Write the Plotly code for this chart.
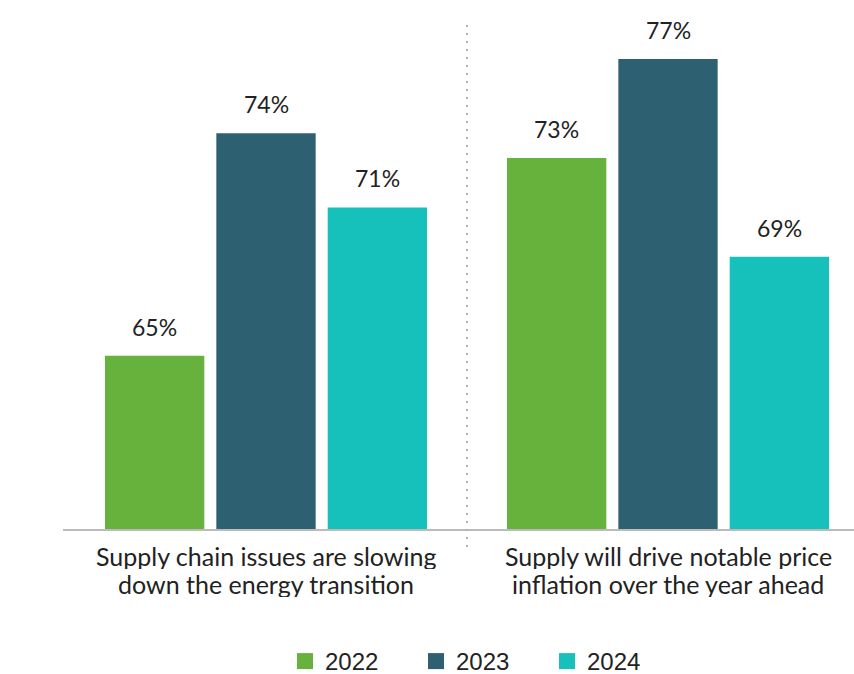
import plotly.graph_objects as go

categories = ["Supply chain issues are slowing down the energy transition",
              "Supply will drive notable price inflation over the year ahead"]
cat_lines = [["Supply chain issues are slowing", "down the energy transition"],
             ["Supply will drive notable price", "inflation over the year ahead"]]
years = ["2022", "2023", "2024"]
values = {
    "2022": [65, 73],
    "2023": [74, 77],
    "2024": [71, 69],
}
colors = {"2022": "#66B23C", "2023": "#2D6070", "2024": "#17C1BB"}

FONT = "Lato"
LEG_FONT = "Liberation Sans"
TXT = "#222222"

# layout geometry
W, H = 854, 674
ML, MR, MT, MB = 63, 0, 20, 145
plot_h = H - MT - MB
plot_w = W - ML - MR
px_per_unit_y = 24.74
y_base = 58
y_top = y_base + plot_h / px_per_unit_y
px_per_cat = 402
x_lo = -(266 - ML) / px_per_cat
x_hi = x_lo + plot_w / px_per_cat
bargap = 0.169
bargroupgap = 0.108
slot = (1 - bargap) / len(years)

fig = go.Figure()
idx = list(range(len(categories)))
for j, yr in enumerate(years):
    fig.add_trace(go.Bar(
        x=idx, y=values[yr], name=yr, marker_color=colors[yr],
        marker_line_width=0, showlegend=False,
    ))
    # legend proxy with bigger square
    fig.add_trace(go.Scatter(
        x=[None], y=[None], mode="markers", name=yr,
        marker=dict(symbol="square", size=16, color=colors[yr]),
        showlegend=True,
    ))
    for i, v in enumerate(values[yr]):
        fig.add_annotation(
            x=i + (j - 1) * slot, y=v, xref="x", yref="y",
            text=f"{v}%", showarrow=False, yanchor="middle", yshift=29,
            font=dict(family=FONT, size=23, color=TXT),
        )

for i, lines in enumerate(cat_lines):
    for k, line in enumerate(lines):
        fig.add_annotation(
            x=i, y=0, xref="x", yref="paper", text=line, showarrow=False,
            yanchor="middle", yshift=-27 - 28 * k, height=26,
            font=dict(family=FONT, size=25, color=TXT),
        )

fig.add_shape(type="line", xref="x", yref="paper", x0=0.5, x1=0.5,
              y0=-18 / plot_h, y1=1.0,
              line=dict(color="#B0B0B0", width=2, dash="2px,6px"))

fig.update_layout(
    width=W, height=H,
    margin=dict(l=ML, r=MR, t=MT, b=MB, pad=0, autoexpand=False),
    paper_bgcolor="white", plot_bgcolor="white",
    barmode="group", bargap=bargap, bargroupgap=bargroupgap,
    font=dict(family=FONT, size=23, color=TXT),
    xaxis=dict(type="linear", range=[x_lo, x_hi], showticklabels=False,
               showgrid=False, zeroline=False, showline=True,
               linecolor="#BBBBBB", linewidth=2, ticks=""),
    yaxis=dict(range=[y_base, y_top], visible=False),
    legend=dict(orientation="h", xref="container", x=(305 - 20) / W, xanchor="left",
                yref="container", y=(H - 661.5) / H, yanchor="middle",
                font=dict(family=LEG_FONT, size=24, color=TXT),
                entrywidth=86, itemsizing="trace"),
    showlegend=True,
)

fig.write_html("out.html")
